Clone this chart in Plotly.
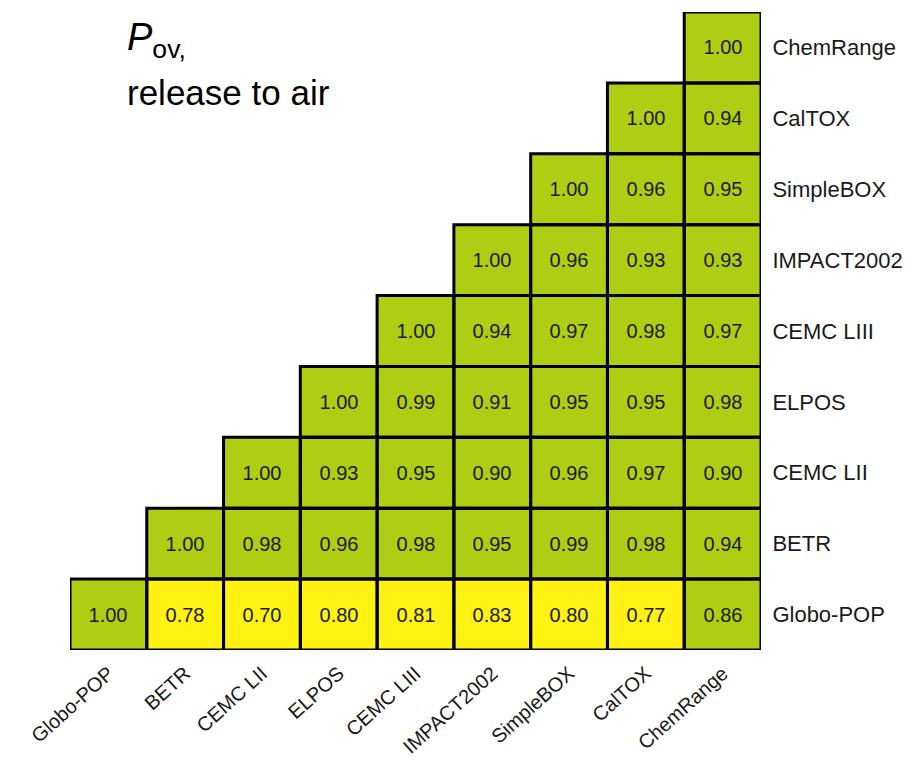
import plotly.graph_objects as go

# Models, left-to-right on the x axis
models = ["Globo-POP", "BETR", "CEMC LII", "ELPOS", "CEMC LIII",
          "IMPACT2002", "SimpleBOX", "CalTOX", "ChemRange"]

# Correlation rows (y axis, bottom to top); only the upper triangle is filled
row_globo = [1.00, 0.78, 0.70, 0.80, 0.81, 0.83, 0.80, 0.77, 0.86]
row_betr = [None, 1.00, 0.98, 0.96, 0.98, 0.95, 0.99, 0.98, 0.94]
row_cemc2 = [None, None, 1.00, 0.93, 0.95, 0.90, 0.96, 0.97, 0.90]
row_elpos = [None, None, None, 1.00, 0.99, 0.91, 0.95, 0.95, 0.98]
row_cemc3 = [None, None, None, None, 1.00, 0.94, 0.97, 0.98, 0.97]
row_impact = [None, None, None, None, None, 1.00, 0.96, 0.93, 0.93]
row_simple = [None, None, None, None, None, None, 1.00, 0.96, 0.95]
row_caltox = [None, None, None, None, None, None, None, 1.00, 0.94]
row_chem = [None, None, None, None, None, None, None, None, 1.00]

rows = [row_globo, row_betr, row_cemc2, row_elpos, row_cemc3,
        row_impact, row_simple, row_caltox, row_chem]

GREEN = "#AFCD12"
YELLOW = "#FFF212"
THRESHOLD = 0.85
ZMIN, ZMAX = 0.5, 1.0
cut = (THRESHOLD - ZMIN) / (ZMAX - ZMIN)
FONT = "Liberation Sans, Arial, sans-serif"
INK = "#1a1a1a"

text = [["" if v is None else f"{v:.2f}" for v in r] for r in rows]

fig = go.Figure(go.Heatmap(
    x=models, y=models, z=rows, text=text,
    texttemplate="%{text}",
    textfont=dict(family=FONT, size=20, color=INK),
    colorscale=[[0, YELLOW], [cut, YELLOW], [cut, GREEN], [1, GREEN]],
    zmin=ZMIN, zmax=ZMAX, showscale=False, hoverongaps=False,
))

# Black outline around every filled cell
for i, r in enumerate(rows):
    for j, v in enumerate(r):
        if v is None:
            continue
        fig.add_shape(type="rect", xref="x", yref="y",
                      x0=j - 0.5, x1=j + 0.5, y0=i - 0.5, y1=i + 0.5,
                      line=dict(color="black", width=3), fillcolor="rgba(0,0,0,0)")

fig.update_xaxes(type="category", categoryorder="array", categoryarray=models,
                 tickangle=-42, showgrid=False, zeroline=False, showline=False,
                 ticks="outside", ticklen=3, tickcolor="rgba(0,0,0,0)",
                 tickfont=dict(family=FONT, size=20, color=INK),
                 range=[-0.5, 8.5], automargin=False)
fig.update_yaxes(type="category", categoryorder="array", categoryarray=models,
                 side="right", showgrid=False, zeroline=False, showline=False,
                 ticks="outside", ticklen=6, tickcolor="rgba(0,0,0,0)",
                 tickfont=dict(family=FONT, size=22, color=INK),
                 range=[-0.5, 8.5], automargin=False)

fig.add_annotation(xref="paper", yref="paper", x=0.08, y=0.997,
                   xanchor="left", yanchor="top", showarrow=False, align="left",
                   text="<i>P</i><sub>ov,</sub>",
                   font=dict(family=FONT, size=38, color="black"))
fig.add_annotation(xref="paper", yref="paper", x=0.08, y=0.907,
                   xanchor="left", yanchor="top", showarrow=False, align="left",
                   text="release to air",
                   font=dict(family=FONT, size=35, color="black"))

fig.update_layout(width=920, height=768,
                  margin=dict(l=70, r=159, t=12, b=118),
                  plot_bgcolor="white", paper_bgcolor="white")

fig.write_html("out.html")
